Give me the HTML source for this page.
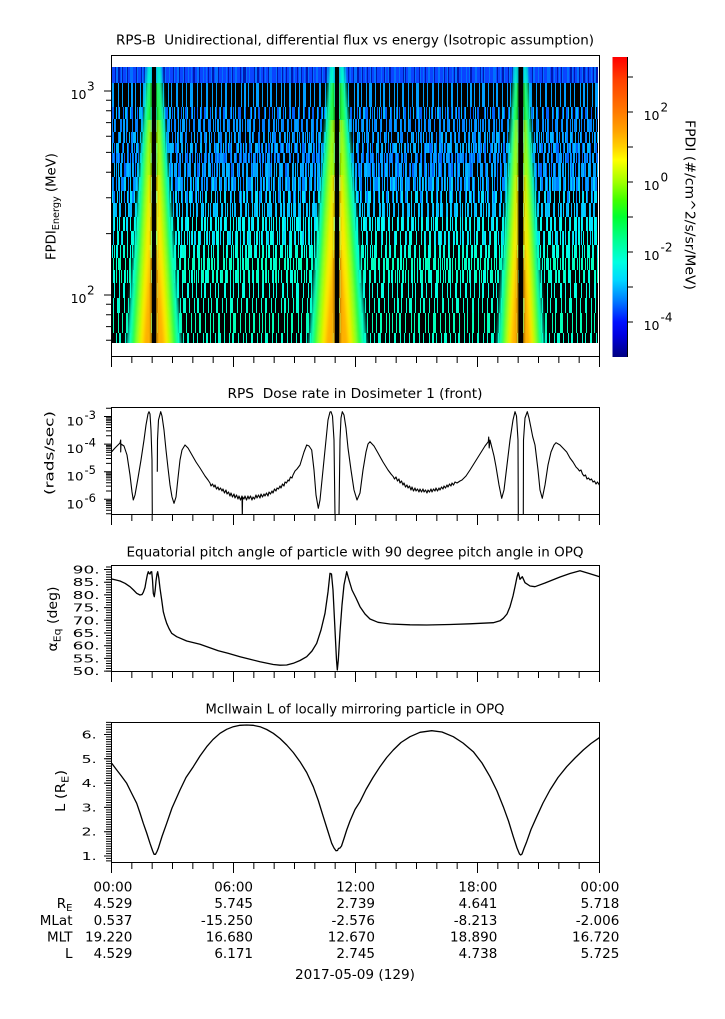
<!DOCTYPE html>
<html><head><meta charset="utf-8"><style>
html,body{margin:0;padding:0;background:#fff;}
svg{display:block;}
text{font-family:"DejaVu Sans","Liberation Sans",sans-serif;fill:#000;}
</style></head><body>
<svg width="725" height="1019" viewBox="0 0 725 1019" xmlns="http://www.w3.org/2000/svg">
<defs>
<pattern id="tD" patternUnits="userSpaceOnUse" x="0" y="0" width="113" height="400"><path fill="#0018b0" d="M2 0h1v400h-1zM5 0h2v400h-2zM9 0h1v400h-1zM14 0h1v400h-1zM17 0h3v400h-3zM23 0h1v400h-1zM28 0h1v400h-1zM31 0h2v400h-2zM37 0h1v400h-1zM42 0h1v400h-1zM45 0h1v400h-1zM50 0h2v400h-2zM56 0h1v400h-1zM60 0h1v400h-1zM64 0h3v400h-3zM71 0h1v400h-1zM75 0h1v400h-1zM80 0h2v400h-2zM86 0h1v400h-1zM90 0h1v400h-1zM95 0h1v400h-1zM99 0h2v400h-2zM105 0h1v400h-1zM109 0h1v400h-1z"/></pattern>
<pattern id="tL" patternUnits="userSpaceOnUse" x="0" y="0" width="139" height="400"><path fill="#0070ff" d="M1 0h2v400h-2zM6 0h1v400h-1zM10 0h1v400h-1zM15 0h1v400h-1zM18 0h2v400h-2zM24 0h1v400h-1zM29 0h1v400h-1zM32 0h1v400h-1zM38 0h2v400h-2zM44 0h1v400h-1zM47 0h1v400h-1zM52 0h1v400h-1zM56 0h3v400h-3zM63 0h1v400h-1zM67 0h1v400h-1zM72 0h1v400h-1zM76 0h2v400h-2zM83 0h1v400h-1zM87 0h1v400h-1zM90 0h1v400h-1zM96 0h2v400h-2zM101 0h1v400h-1zM106 0h1v400h-1zM110 0h3v400h-3zM117 0h1v400h-1zM122 0h1v400h-1zM125 0h1v400h-1zM130 0h2v400h-2zM135 0h1v400h-1z"/></pattern>

<pattern id="b1" patternUnits="userSpaceOnUse" x="0" y="0" width="113" height="400"><path fill="#00a0ff" d="M2 0h1v400h-1zM5 0h2v400h-2zM9 0h1v400h-1zM14 0h1v400h-1zM17 0h3v400h-3zM23 0h1v400h-1zM28 0h1v400h-1zM31 0h2v400h-2zM37 0h1v400h-1zM42 0h1v400h-1zM45 0h1v400h-1zM50 0h2v400h-2zM56 0h1v400h-1zM60 0h1v400h-1zM64 0h3v400h-3zM71 0h1v400h-1zM75 0h1v400h-1zM80 0h2v400h-2zM86 0h1v400h-1zM90 0h1v400h-1zM95 0h1v400h-1zM99 0h2v400h-2zM105 0h1v400h-1zM109 0h1v400h-1z"/></pattern>
<pattern id="b2" patternUnits="userSpaceOnUse" x="0" y="0" width="127" height="400"><path fill="#0080ff" d="M0 0h1v400h-1zM4 0h1v400h-1zM7 0h2v400h-2zM13 0h1v400h-1zM19 0h1v400h-1zM22 0h1v400h-1zM26 0h2v400h-2zM33 0h1v400h-1zM36 0h1v400h-1zM41 0h3v400h-3zM48 0h1v400h-1zM53 0h1v400h-1zM57 0h1v400h-1zM61 0h2v400h-2zM67 0h1v400h-1zM72 0h1v400h-1zM75 0h1v400h-1zM80 0h2v400h-2zM86 0h1v400h-1zM92 0h1v400h-1zM95 0h3v400h-3zM102 0h1v400h-1zM107 0h1v400h-1zM111 0h1v400h-1zM115 0h2v400h-2zM121 0h1v400h-1zM124 0h1v400h-1z"/></pattern>
<pattern id="b3" patternUnits="userSpaceOnUse" x="0" y="0" width="139" height="400"><path fill="#00b8ff" d="M1 0h2v400h-2zM6 0h1v400h-1zM10 0h1v400h-1zM15 0h1v400h-1zM18 0h2v400h-2zM24 0h1v400h-1zM29 0h1v400h-1zM32 0h1v400h-1zM38 0h2v400h-2zM44 0h1v400h-1zM47 0h1v400h-1zM52 0h1v400h-1zM56 0h3v400h-3zM63 0h1v400h-1zM67 0h1v400h-1zM72 0h1v400h-1zM76 0h2v400h-2zM83 0h1v400h-1zM87 0h1v400h-1zM90 0h1v400h-1zM96 0h2v400h-2zM101 0h1v400h-1zM106 0h1v400h-1zM110 0h3v400h-3zM117 0h1v400h-1zM122 0h1v400h-1zM125 0h1v400h-1zM130 0h2v400h-2zM135 0h1v400h-1z"/></pattern>
<pattern id="d2" patternUnits="userSpaceOnUse" x="0" y="0" width="127" height="400"><path fill="#0060f8" d="M0 0h1v400h-1zM4 0h1v400h-1zM7 0h2v400h-2zM13 0h1v400h-1zM19 0h1v400h-1zM22 0h1v400h-1zM26 0h2v400h-2zM33 0h1v400h-1zM36 0h1v400h-1zM41 0h3v400h-3zM48 0h1v400h-1zM53 0h1v400h-1zM57 0h1v400h-1zM61 0h2v400h-2zM67 0h1v400h-1zM72 0h1v400h-1zM75 0h1v400h-1zM80 0h2v400h-2zM86 0h1v400h-1zM92 0h1v400h-1zM95 0h3v400h-3zM102 0h1v400h-1zM107 0h1v400h-1zM111 0h1v400h-1zM115 0h2v400h-2zM121 0h1v400h-1zM124 0h1v400h-1z"/></pattern>
<pattern id="c1" patternUnits="userSpaceOnUse" x="0" y="0" width="113" height="400"><path fill="#00e0ff" d="M2 0h1v400h-1zM5 0h2v400h-2zM9 0h1v400h-1zM14 0h1v400h-1zM17 0h3v400h-3zM23 0h1v400h-1zM28 0h1v400h-1zM31 0h2v400h-2zM37 0h1v400h-1zM42 0h1v400h-1zM45 0h1v400h-1zM50 0h2v400h-2zM56 0h1v400h-1zM60 0h1v400h-1zM64 0h3v400h-3zM71 0h1v400h-1zM75 0h1v400h-1zM80 0h2v400h-2zM86 0h1v400h-1zM90 0h1v400h-1zM95 0h1v400h-1zM99 0h2v400h-2zM105 0h1v400h-1zM109 0h1v400h-1z"/></pattern>
<pattern id="c2" patternUnits="userSpaceOnUse" x="0" y="0" width="127" height="400"><path fill="#00d0ff" d="M0 0h1v400h-1zM4 0h1v400h-1zM7 0h2v400h-2zM13 0h1v400h-1zM19 0h1v400h-1zM22 0h1v400h-1zM26 0h2v400h-2zM33 0h1v400h-1zM36 0h1v400h-1zM41 0h3v400h-3zM48 0h1v400h-1zM53 0h1v400h-1zM57 0h1v400h-1zM61 0h2v400h-2zM67 0h1v400h-1zM72 0h1v400h-1zM75 0h1v400h-1zM80 0h2v400h-2zM86 0h1v400h-1zM92 0h1v400h-1zM95 0h3v400h-3zM102 0h1v400h-1zM107 0h1v400h-1zM111 0h1v400h-1zM115 0h2v400h-2zM121 0h1v400h-1zM124 0h1v400h-1z"/></pattern>
<pattern id="c3" patternUnits="userSpaceOnUse" x="0" y="0" width="139" height="400"><path fill="#00fff0" d="M1 0h2v400h-2zM6 0h1v400h-1zM10 0h1v400h-1zM15 0h1v400h-1zM18 0h2v400h-2zM24 0h1v400h-1zM29 0h1v400h-1zM32 0h1v400h-1zM38 0h2v400h-2zM44 0h1v400h-1zM47 0h1v400h-1zM52 0h1v400h-1zM56 0h3v400h-3zM63 0h1v400h-1zM67 0h1v400h-1zM72 0h1v400h-1zM76 0h2v400h-2zM83 0h1v400h-1zM87 0h1v400h-1zM90 0h1v400h-1zM96 0h2v400h-2zM101 0h1v400h-1zM106 0h1v400h-1zM110 0h3v400h-3zM117 0h1v400h-1zM122 0h1v400h-1zM125 0h1v400h-1zM130 0h2v400h-2zM135 0h1v400h-1z"/></pattern>
<pattern id="g1" patternUnits="userSpaceOnUse" x="0" y="0" width="113" height="400"><path fill="#00ffd0" d="M2 0h1v400h-1zM5 0h2v400h-2zM9 0h1v400h-1zM14 0h1v400h-1zM17 0h3v400h-3zM23 0h1v400h-1zM28 0h1v400h-1zM31 0h2v400h-2zM37 0h1v400h-1zM42 0h1v400h-1zM45 0h1v400h-1zM50 0h2v400h-2zM56 0h1v400h-1zM60 0h1v400h-1zM64 0h3v400h-3zM71 0h1v400h-1zM75 0h1v400h-1zM80 0h2v400h-2zM86 0h1v400h-1zM90 0h1v400h-1zM95 0h1v400h-1zM99 0h2v400h-2zM105 0h1v400h-1zM109 0h1v400h-1z"/></pattern>
<pattern id="g2" patternUnits="userSpaceOnUse" x="0" y="0" width="127" height="400"><path fill="#00ffb8" d="M0 0h1v400h-1zM4 0h1v400h-1zM7 0h2v400h-2zM13 0h1v400h-1zM19 0h1v400h-1zM22 0h1v400h-1zM26 0h2v400h-2zM33 0h1v400h-1zM36 0h1v400h-1zM41 0h3v400h-3zM48 0h1v400h-1zM53 0h1v400h-1zM57 0h1v400h-1zM61 0h2v400h-2zM67 0h1v400h-1zM72 0h1v400h-1zM75 0h1v400h-1zM80 0h2v400h-2zM86 0h1v400h-1zM92 0h1v400h-1zM95 0h3v400h-3zM102 0h1v400h-1zM107 0h1v400h-1zM111 0h1v400h-1zM115 0h2v400h-2zM121 0h1v400h-1zM124 0h1v400h-1z"/></pattern>
<pattern id="g3" patternUnits="userSpaceOnUse" x="0" y="0" width="139" height="400"><path fill="#00ffe4" d="M1 0h2v400h-2zM6 0h1v400h-1zM10 0h1v400h-1zM15 0h1v400h-1zM18 0h2v400h-2zM24 0h1v400h-1zM29 0h1v400h-1zM32 0h1v400h-1zM38 0h2v400h-2zM44 0h1v400h-1zM47 0h1v400h-1zM52 0h1v400h-1zM56 0h3v400h-3zM63 0h1v400h-1zM67 0h1v400h-1zM72 0h1v400h-1zM76 0h2v400h-2zM83 0h1v400h-1zM87 0h1v400h-1zM90 0h1v400h-1zM96 0h2v400h-2zM101 0h1v400h-1zM106 0h1v400h-1zM110 0h3v400h-3zM117 0h1v400h-1zM122 0h1v400h-1zM125 0h1v400h-1zM130 0h2v400h-2zM135 0h1v400h-1z"/></pattern>

<linearGradient id="cb" x1="0" y1="0" x2="0" y2="1">
<stop offset="0" stop-color="#ff0000"/><stop offset="0.077" stop-color="#ff4000"/><stop offset="0.183" stop-color="#ff7a00"/><stop offset="0.243" stop-color="#ffa000"/><stop offset="0.3" stop-color="#ffd000"/><stop offset="0.343" stop-color="#ffff00"/><stop offset="0.417" stop-color="#a0ff00"/><stop offset="0.477" stop-color="#40ff00"/><stop offset="0.533" stop-color="#00ff30"/><stop offset="0.61" stop-color="#00ff90"/><stop offset="0.683" stop-color="#00ffe0"/><stop offset="0.743" stop-color="#00d8ff"/><stop offset="0.81" stop-color="#0080ff"/><stop offset="0.883" stop-color="#0010ff"/><stop offset="0.927" stop-color="#0000e0"/><stop offset="1" stop-color="#000080"/>
</linearGradient>
<clipPath id="dclip"><rect x="112" y="67" width="486" height="276"/></clipPath>
<clipPath id="c2c"><rect x="112" y="408" width="487" height="106"/></clipPath>
<clipPath id="c3c"><rect x="112" y="566" width="487" height="105"/></clipPath>
<clipPath id="c4c"><rect x="112" y="723" width="487" height="139"/></clipPath>
<filter id="hb" x="-30%" y="-5%" width="160%" height="110%"><feGaussianBlur stdDeviation="1.5 0"/></filter>
</defs>

<!-- ============ PANEL 1: spectrogram ============ -->
<text x="355" y="44.5" text-anchor="middle" font-size="13" textLength="478" lengthAdjust="spacingAndGlyphs" style="white-space:pre">RPS-B  Unidirectional, differential flux vs energy (Isotropic assumption)</text>

<g clip-path="url(#dclip)">
<rect x="112" y="67" width="486" height="276" fill="#000"/>
<rect x="112" y="67" width="486" height="16" fill="#0a44ff"/>
<rect x="112" y="67" width="486" height="16" fill="url(#tD)"/>
<g transform="translate(20,0)"><rect x="92" y="67" width="486" height="16" fill="url(#tL)"/></g>

<g transform="translate(13,0)"><rect x="99" y="83" width="486" height="24" fill="url(#b1)"/></g>
<g transform="translate(29,0)"><rect x="83" y="107" width="486" height="12" fill="url(#b3)"/></g>
<g transform="translate(70,0)"><rect x="42" y="107" width="486" height="12" fill="url(#d2)"/></g>
<g transform="translate(5,0)"><rect x="107" y="119" width="486" height="13" fill="url(#b1)"/></g>
<g transform="translate(40,0)"><rect x="72" y="119" width="486" height="13" fill="url(#b2)"/></g>
<g transform="translate(23,0)"><rect x="89" y="132" width="486" height="11" fill="url(#b3)"/></g>
<g transform="translate(51,0)"><rect x="61" y="132" width="486" height="11" fill="url(#b2)"/></g>
<g transform="translate(37,0)"><rect x="75" y="143" width="486" height="10" fill="url(#b1)"/></g>
<g transform="translate(7,0)"><rect x="105" y="143" width="486" height="10" fill="url(#d2)"/></g>
<g transform="translate(60,0)"><rect x="52" y="143" width="486" height="10" fill="url(#b3)"/></g>
<g transform="translate(55,0)"><rect x="57" y="153" width="486" height="10" fill="url(#b2)"/></g>
<g transform="translate(17,0)"><rect x="95" y="153" width="486" height="10" fill="url(#d2)"/></g>
<g transform="translate(90,0)"><rect x="22" y="153" width="486" height="10" fill="url(#b1)"/></g>
<g transform="translate(63,0)"><rect x="49" y="163" width="486" height="14" fill="url(#d2)"/></g>
<g transform="translate(31,0)"><rect x="81" y="163" width="486" height="14" fill="url(#b3)"/></g>
<g transform="translate(11,0)"><rect x="101" y="163" width="486" height="14" fill="url(#b1)"/></g>
<g transform="translate(3,0)"><rect x="109" y="177" width="486" height="14" fill="url(#b1)"/></g>
<g transform="translate(44,0)"><rect x="68" y="177" width="486" height="14" fill="url(#c2)"/></g>
<g transform="translate(80,0)"><rect x="32" y="177" width="486" height="14" fill="url(#b2)"/></g>
<g transform="translate(71,0)"><rect x="41" y="191" width="486" height="12" fill="url(#b2)"/></g>
<g transform="translate(12,0)"><rect x="100" y="191" width="486" height="12" fill="url(#c1)"/></g>
<g transform="translate(33,0)"><rect x="79" y="203" width="486" height="14" fill="url(#c2)"/></g>
<g transform="translate(19,0)"><rect x="93" y="203" width="486" height="14" fill="url(#b3)"/></g>
<g transform="translate(8,0)"><rect x="104" y="217" width="486" height="14" fill="url(#c1)"/></g>
<g transform="translate(47,0)"><rect x="65" y="217" width="486" height="14" fill="url(#c3)"/></g>
<g transform="translate(60,0)"><rect x="52" y="231" width="486" height="14" fill="url(#c2)"/></g>
<g transform="translate(21,0)"><rect x="91" y="231" width="486" height="14" fill="url(#g3)"/></g>
<g transform="translate(40,0)"><rect x="72" y="245" width="486" height="13" fill="url(#c3)"/></g>
<g transform="translate(5,0)"><rect x="107" y="245" width="486" height="13" fill="url(#g1)"/></g>
<g transform="translate(30,0)"><rect x="82" y="258" width="486" height="12" fill="url(#g1)"/></g>
<g transform="translate(77,0)"><rect x="35" y="258" width="486" height="12" fill="url(#g2)"/></g>
<g transform="translate(14,0)"><rect x="98" y="270" width="486" height="13" fill="url(#g2)"/></g>
<g transform="translate(95,0)"><rect x="17" y="270" width="486" height="13" fill="url(#g3)"/></g>
<g transform="translate(47,0)"><rect x="65" y="283" width="486" height="15" fill="url(#g3)"/></g>
<g transform="translate(53,0)"><rect x="59" y="298" width="486" height="15" fill="url(#g1)"/></g>
<g transform="translate(11,0)"><rect x="101" y="313" width="486" height="20" fill="url(#g2)"/></g>
<g transform="translate(88,0)"><rect x="24" y="333" width="486" height="10" fill="url(#g1)"/></g>

<g filter="url(#hb)">
<!-- band 1 -->
<polygon points="147,67 152,67 152,343 127,343" fill="#00ffd0"/>
<polygon points="148,83 152,83 152,343 131,343" fill="#20ff40"/>
<polygon points="149,120 152,120 152,343 136,343" fill="#a8ff00"/>
<polygon points="149.5,175 152,175 152,343 140,343" fill="#ffe800"/>
<polygon points="150,250 152,250 152,343 143.5,343" fill="#ffb000"/>
<polygon points="156,67 161,67 181,343 156,343" fill="#00ffd0"/>
<polygon points="156,83 160,83 177,343 156,343" fill="#20ff40"/>
<polygon points="156,120 159,120 172,343 156,343" fill="#a8ff00"/>
<polygon points="156,175 158.5,175 168,343 156,343" fill="#ffe800"/>
<polygon points="156,250 158,250 164.5,343 156,343" fill="#ffb000"/>
<!-- band 2 -->
<polygon points="329.5,67 335,67 335,343 309,343" fill="#00ffd0"/>
<polygon points="330.6,83 335,83 335,343 312.5,343" fill="#20ff40"/>
<polygon points="331.7,120 335,120 335,343 317.4,343" fill="#a8ff00"/>
<polygon points="332.25,175 335,175 335,343 321.8,343" fill="#ffe800"/>
<polygon points="332.8,250 335,250 335,343 325.65,343" fill="#ffb000"/>
<polygon points="339,67 344.5,67 366.5,343 339,343" fill="#00ffd0"/>
<polygon points="339,83 343.4,83 362.1,343 339,343" fill="#20ff40"/>
<polygon points="339,120 342.3,120 356.6,343 339,343" fill="#a8ff00"/>
<polygon points="339,175 341.75,175 352.2,343 339,343" fill="#ffe800"/>
<polygon points="339,250 341.2,250 348.35,343 339,343" fill="#ffb000"/>
<!-- band 3 -->
<polygon points="514.25,67 518.5,67 518.5,343 497.25,343" fill="#00ffd0"/>
<polygon points="515.1,83 518.5,83 518.5,343 500.65,343" fill="#20ff40"/>
<polygon points="515.95,120 518.5,120 518.5,343 504.9,343" fill="#a8ff00"/>
<polygon points="516.4,175 518.5,175 518.5,343 508.3,343" fill="#ffe800"/>
<polygon points="516.8,250 518.5,250 518.5,343 511.3,343" fill="#ffb000"/>
<polygon points="523,67 527.25,67 544.25,343 523,343" fill="#00ffd0"/>
<polygon points="523,83 526.4,83 540.85,343 523,343" fill="#20ff40"/>
<polygon points="523,120 525.55,120 536.6,343 523,343" fill="#a8ff00"/>
<polygon points="523,175 525.1,175 533.2,343 523,343" fill="#ffe800"/>
<polygon points="523,250 524.7,250 530.2,343 523,343" fill="#ffb000"/>
</g>
<rect x="152" y="67" width="4" height="276" fill="#000"/>
<rect x="335" y="67" width="4" height="276" fill="#000"/>
<rect x="518.5" y="67" width="4.5" height="276" fill="#000"/>
</g>

<rect x="111.5" y="55.5" width="488" height="301" fill="none" stroke="#000" stroke-width="1"/>
<path d="M106 340.3h5M106 326.6h5M106 314.8h5M106 304.3h5M106 233.6h5M106 197.7h5M106 172.2h5M106 152.4h5M106 136.3h5M106 122.6h5M106 110.8h5M106 100.3h5M104 91h7M104 295h7" stroke="#000" stroke-width="1" fill="none"/>
<path d="M111 360H600" stroke="#000" stroke-width="6" stroke-dasharray="1 19.3333" fill="none"/>
<path d="M111 362H600" stroke="#000" stroke-width="10" stroke-dasharray="1 121" fill="none"/>
<text x="86.5" y="99" text-anchor="end" font-size="12.5">10</text><text x="87" y="90.5" font-size="12">3</text>
<text x="86.5" y="303" text-anchor="end" font-size="12.5">10</text><text x="87" y="294.5" font-size="12">2</text>
<text transform="translate(55.5,206.5) rotate(-90)" text-anchor="middle" font-size="13" textLength="107" lengthAdjust="spacingAndGlyphs">FPDI<tspan font-size="9.5" dy="3.5">Energy</tspan><tspan dy="-3.5"> (MeV)</tspan></text>

<!-- colorbar -->
<rect x="612.5" y="57" width="15" height="300" fill="url(#cb)"/>
<path d="M627.5 57V357M627 77h6M627 112h6M627 147h6M627 182h6M627 217h6M627 252h6M627 287h6M627 322h6" stroke="#000" stroke-width="1" fill="none"/>
<text x="659.5" y="120" text-anchor="end" font-size="12.5">10</text><text x="660.5" y="111.5" font-size="12">2</text>
<text x="659.5" y="190" text-anchor="end" font-size="12.5">10</text><text x="660.5" y="181.5" font-size="12">0</text>
<text x="659.5" y="260" text-anchor="end" font-size="12.5">10</text><text x="660.5" y="251.5" font-size="12">-2</text>
<text x="659.5" y="330" text-anchor="end" font-size="12.5">10</text><text x="660.5" y="321.5" font-size="12">-4</text>
<text transform="translate(685.5,205) rotate(90)" text-anchor="middle" font-size="13" textLength="170" lengthAdjust="spacingAndGlyphs">FPDI (#/cm^2/s/sr/MeV)</text>

<!-- ============ PANEL 2: dose rate ============ -->
<text x="355" y="398" text-anchor="middle" font-size="13" textLength="255" lengthAdjust="spacingAndGlyphs" style="white-space:pre">RPS  Dose rate in Dosimeter 1 (front)</text>
<g clip-path="url(#c2c)" fill="none" stroke="#000" stroke-width="1.1" stroke-linejoin="round">
<polyline points="111.7,451.7 115,448 118,445 120,443 120.7,440 120.7,452 121,444 124,446 127,455 130,475 132,492 133.3,500 135,495 138,478 141,460 144,440 146,425 148,414 149,411.7 150,414 151,430 152,460 152.3,516"/>
<polyline points="157.3,471.7 157.5,440 158.5,420 160.7,411.7 162,416 164,430 166,450 168,468 170,485 172,497 174,503.3 176,497 178,478 180,460 182,450 185,445 188,448 192,455 196,462 200,468 205,476 208,480 210,483 211,486 212.5,484 214,487 215,485 216.5,489 218,487 219,490 220.5,488 222,491 223,489 224.5,493 226,490 227,494 228.5,492 230,496 231,493 232.5,497 234,494 235,498 236.5,495 238,499 239,496 240.5,500 242,496 242.3,516 242.6,497 244,499 245,496 246.5,500 248,496 249,499 250.5,496 252,500 253,497 254.5,499 256,495 257,498 258.5,495 260,498 261,494 262.5,497 264,494 265,496 266.5,493 268,496 269,492 270.5,494 272,491 273,493 274.5,489 276,491 277,488 278.5,489 280,486 281,488 282.5,484 284,486 285,482 286.5,483 288,480 289,481 290.5,477 292,478 293,475 295,471 297,469 300,465 304,452 306.7,445 309,446 311.7,450 314,470 316,495 318.3,508.3 320,500 323,470 326,440 328,420 330,412 331,411.7 332.5,416 334,440 335,516"/>
<polyline points="339,516 340,440 341,418 342.3,411.7 344,415 346,428 348,448 351,470 354,490 357,500 360,493 363,470 366,452 368,444 370,441.7 374,446 378,453 383,462 388,470 391,474 393.3,476.7 394.5,479 396,477 397.5,481 399,479 400,483 401.5,481 403,485 404,483 405.5,487 407,485 408,488 409.5,486 411,490 412,487 413.5,491 415,488 416,491 417.5,489 419,492 420,489 421.5,492 423,489 424,492 425.5,490 427,493 428,490 429.5,492 431,489 432,492 433.5,489 435,491 436,488 437.5,491 439,488 440,490 441.5,487 443,489 444,486 445.5,488 447,485 448,487 449.5,484 451,486 452,483 453.5,485 455,482 457,483 460,481 462,480 466,476 470,470 475,462 480,454 485,446 488.3,441.7 488.7,437 489.2,448 490,440 491.7,446.7 494,456 496,466.7 499,485 501.7,498.3 504,490 507,465 510,440 513,420 515,411.7 516.5,416 518,440 518.3,516"/>
<polyline points="523.3,516 523.5,440 525,418 527.3,411.7 529,418 531,428 532.7,436.7 535,445 538,470 540,490 542.3,498.3 545,485 548,465 551,452 554,445 556,442.7 560,445 566.7,452 570,458 573,462 576,467 578,469 579.5,471 581,470 582.5,474 584,476 585.5,475 587,479 588.5,478 590,480 591.5,479 593,482 594.5,481 596,484 597.5,482 600,486"/>
</g>
<rect x="111.5" y="407.5" width="488" height="107" fill="none" stroke="#000" stroke-width="1"/>
<path d="M106 408.2h5M106 435.8h5M106 430.9h5M106 427.5h5M106 424.8h5M106 422.6h5M106 420.8h5M106 419.2h5M106 417.8h5M106 463.4h5M106 458.5h5M106 455.1h5M106 452.4h5M106 450.2h5M106 448.4h5M106 446.8h5M106 445.4h5M106 491h5M106 486.1h5M106 482.7h5M106 480h5M106 477.8h5M106 476h5M106 474.4h5M106 473h5M106 513.7h5M106 510.3h5M106 507.6h5M106 505.4h5M106 503.6h5M106 502h5M106 500.6h5M104 416.5h7M104 444.1h7M104 471.7h7M104 499.3h7" stroke="#000" stroke-width="1" fill="none"/>
<path d="M111 518H600" stroke="#000" stroke-width="6" stroke-dasharray="1 19.3333" fill="none"/>
<path d="M111 520H600" stroke="#000" stroke-width="10" stroke-dasharray="1 121" fill="none"/>
<text x="83.5" y="425.5" text-anchor="end" font-size="11.5" textLength="17" lengthAdjust="spacingAndGlyphs">10</text><text x="84.5" y="419" font-size="11.5" textLength="11.5" lengthAdjust="spacingAndGlyphs">-3</text>
<text x="83.5" y="453.1" text-anchor="end" font-size="11.5" textLength="17" lengthAdjust="spacingAndGlyphs">10</text><text x="84.5" y="446.6" font-size="11.5" textLength="11.5" lengthAdjust="spacingAndGlyphs">-4</text>
<text x="83.5" y="480.7" text-anchor="end" font-size="11.5" textLength="17" lengthAdjust="spacingAndGlyphs">10</text><text x="84.5" y="474.2" font-size="11.5" textLength="11.5" lengthAdjust="spacingAndGlyphs">-5</text>
<text x="83.5" y="508.3" text-anchor="end" font-size="11.5" textLength="17" lengthAdjust="spacingAndGlyphs">10</text><text x="84.5" y="501.8" font-size="11.5" textLength="11.5" lengthAdjust="spacingAndGlyphs">-6</text>
<text transform="translate(53.5,453) rotate(-90)" text-anchor="middle" font-size="12.5" textLength="84" lengthAdjust="spacingAndGlyphs">(rads/sec)</text>

<!-- ============ PANEL 3: pitch angle ============ -->
<text x="355" y="556.5" text-anchor="middle" font-size="13" textLength="457" lengthAdjust="spacingAndGlyphs">Equatorial pitch angle of particle with 90 degree pitch angle in OPQ</text>
<g clip-path="url(#c3c)" fill="none" stroke="#000" stroke-width="1.3" stroke-linejoin="round">
<polyline points="111.7,579 116,580 120,581 125,583.3 130,586.7 133.5,590 136.7,593.3 140,595 142,594.5 143.3,592.3 145,587.5 146,581.7 147.3,575 148.3,571.7 149.2,573.5 150,574 150.8,572 151.7,571.7 152.5,580 153.3,593.3 154.3,596.7 155.2,590 156,581 157,574 157.7,571.7 158.8,578 160,588.3 161.7,600 163.3,611.7 165,618 166.7,623.3 169,628.5 171.7,633.3 176.7,636.7 186.7,641 200,644.3 218.3,650.7 228,653.3 240,656.7 250,659.3 260,661.7 273.3,664.5 280,665.2 286.7,665 293.3,663.3 300,660.5 306.7,656.7 312,651 316.7,643.3 321,630 325,613.3 328,592 330,573.3 331.5,574 333,590 335,630 336.5,660 337.3,670 338.3,660 340,632 342,605 344,585 346.7,571.7 349,580 352,590 356,598 360,606.7 365,614 370,619 378,622.3 390,624 410,624.8 426.7,625 450,624.5 470,623.8 493.3,622.7 500,620.8 503.3,618.3 507,614 510,606.7 513,596 515,586.7 517,577 518.3,572.7 520,579.3 522.3,576.7 525,582.7 530,586 535,586.7 545,583 560,577 570,573.5 580,570.7 590,573.8 599.3,576.7"/>
</g>
<rect x="111.5" y="565.5" width="488" height="106" fill="none" stroke="#000" stroke-width="1"/>
<path d="M108.5 671.6V566.4" stroke="#000" stroke-width="5" stroke-dasharray="1 1.54" fill="none"/>
<path d="M107.5 671.6V569" stroke="#000" stroke-width="7" stroke-dasharray="1 11.7" fill="none"/>
<path d="M111 675H600" stroke="#000" stroke-width="6" stroke-dasharray="1 19.3333" fill="none"/>
<path d="M111 677H600" stroke="#000" stroke-width="10" stroke-dasharray="1 121" fill="none"/>
<g font-size="10.5">
<text x="72.7" y="573.5" textLength="27" lengthAdjust="spacingAndGlyphs">90.</text>
<text x="72.7" y="586.2" textLength="27" lengthAdjust="spacingAndGlyphs">85.</text>
<text x="72.7" y="598.9" textLength="27" lengthAdjust="spacingAndGlyphs">80.</text>
<text x="72.7" y="611.6" textLength="27" lengthAdjust="spacingAndGlyphs">75.</text>
<text x="72.7" y="624.3" textLength="27" lengthAdjust="spacingAndGlyphs">70.</text>
<text x="72.7" y="637" textLength="27" lengthAdjust="spacingAndGlyphs">65.</text>
<text x="72.7" y="649.7" textLength="27" lengthAdjust="spacingAndGlyphs">60.</text>
<text x="72.7" y="662.4" textLength="27" lengthAdjust="spacingAndGlyphs">55.</text>
<text x="72.7" y="675.1" textLength="27" lengthAdjust="spacingAndGlyphs">50.</text>
</g>
<text transform="translate(57,619) rotate(-90)" text-anchor="middle" font-size="13" textLength="65" lengthAdjust="spacingAndGlyphs">α<tspan font-size="10" dy="3.5">Eq</tspan><tspan dy="-3.5"> (deg)</tspan></text>

<!-- ============ PANEL 4: L ============ -->
<text x="355" y="713.3" text-anchor="middle" font-size="13" textLength="299" lengthAdjust="spacingAndGlyphs">McIlwain L of locally mirroring particle in OPQ</text>
<g clip-path="url(#c4c)" fill="none" stroke="#000" stroke-width="1.3" stroke-linejoin="round">
<polyline points="111.7,763.3 116,769 121,775.5 126.7,783.3 131.5,793 136.7,803.3 140,813 143.3,823.3 146.7,833 150,843.3 152.5,850.5 154,854.3 155.5,854.3 157,851.5 158.3,848.3 162,836.5 166.7,823.3 172,808 180,790 186,777.5 193.3,766.7 200,756 206.7,746.7 213,739.5 220,733.3 226.7,729.3 233.3,726.7 240,725.3 246.7,725 253,725.3 260,726.7 266.7,729.5 273.3,733.3 280,738.5 286.7,745 293.3,752.5 300,761.7 306.7,772.5 313.3,786.7 318.3,800.5 323.3,816.7 327.5,830 331.7,843.3 334,848 336,850.7 337.5,850.5 338.5,848.5 340,848 341.5,846 344,838.5 346.7,830 350,821 355,809.5 360,801.7 366,789.5 373,777.5 380,766.7 386.7,757.5 393.3,750 401,742.5 410,736.7 420,732.3 431.7,730.7 442,732 453.3,736.7 463,743 473.3,751.7 482,763 490,776.7 497,791 503.3,806.7 508.5,821 513.3,836.7 517,848 519.5,854 520.7,855 522,854 524,848.5 526.7,841.7 531,829.5 536.7,816.7 543,803 550,790 558,777.5 566.7,766.7 575,758 583.3,750 591,743.5 599.3,737.7"/>
</g>
<rect x="111.5" y="722.5" width="488" height="140" fill="none" stroke="#000" stroke-width="1"/>
<path d="M108.5 861.36V721.85" stroke="#000" stroke-width="5" stroke-dasharray="1 1.43" fill="none"/>
<path d="M107.5 856.5V733" stroke="#000" stroke-width="7" stroke-dasharray="1 23.3" fill="none"/>
<path d="M111 866H600" stroke="#000" stroke-width="6" stroke-dasharray="1 19.3333" fill="none"/>
<path d="M111 868H600" stroke="#000" stroke-width="10" stroke-dasharray="1 121" fill="none"/>
<g font-size="10.5">
<text x="81.7" y="738.5" textLength="15" lengthAdjust="spacingAndGlyphs">6.</text>
<text x="81.7" y="762.8" textLength="15" lengthAdjust="spacingAndGlyphs">5.</text>
<text x="81.7" y="787.1" textLength="15" lengthAdjust="spacingAndGlyphs">4.</text>
<text x="81.7" y="811.4" textLength="15" lengthAdjust="spacingAndGlyphs">3.</text>
<text x="81.7" y="835.7" textLength="15" lengthAdjust="spacingAndGlyphs">2.</text>
<text x="81.7" y="860" textLength="15" lengthAdjust="spacingAndGlyphs">1.</text>
</g>
<text transform="translate(65,791) rotate(-90)" text-anchor="middle" font-size="13" textLength="42" lengthAdjust="spacingAndGlyphs">L (R<tspan font-size="10" dy="3.5">E</tspan><tspan dy="-3.5">)</tspan></text>

<!-- ============ bottom annotation ============ -->
<g font-size="13.5" text-anchor="end">
<text x="132.3" y="891.5">00:00</text><text x="253" y="891.5">06:00</text><text x="375" y="891.5">12:00</text><text x="497.3" y="891.5">18:00</text><text x="619.3" y="891.5">00:00</text>
<text x="72.5" y="908">R<tspan font-size="10" dy="3">E</tspan></text>
<text x="132.3" y="908">4.529</text><text x="253" y="908">5.745</text><text x="375" y="908">2.739</text><text x="497.3" y="908">4.641</text><text x="619.3" y="908">5.718</text>
<text x="72.5" y="925">MLat</text>
<text x="132.3" y="925">0.537</text><text x="253" y="925">-15.250</text><text x="375" y="925">-2.576</text><text x="497.3" y="925">-8.213</text><text x="619.3" y="925">-2.006</text>
<text x="72.5" y="941.5">MLT</text>
<text x="132.3" y="941.5">19.220</text><text x="253" y="941.5">16.680</text><text x="375" y="941.5">12.670</text><text x="497.3" y="941.5">18.890</text><text x="619.3" y="941.5">16.720</text>
<text x="72.5" y="958">L</text>
<text x="132.3" y="958">4.529</text><text x="253" y="958">6.171</text><text x="375" y="958">2.745</text><text x="497.3" y="958">4.738</text><text x="619.3" y="958">5.725</text>
</g>
<text x="355" y="979" text-anchor="middle" font-size="13.5" textLength="120" lengthAdjust="spacingAndGlyphs">2017-05-09 (129)</text>
</svg>
</body></html>
